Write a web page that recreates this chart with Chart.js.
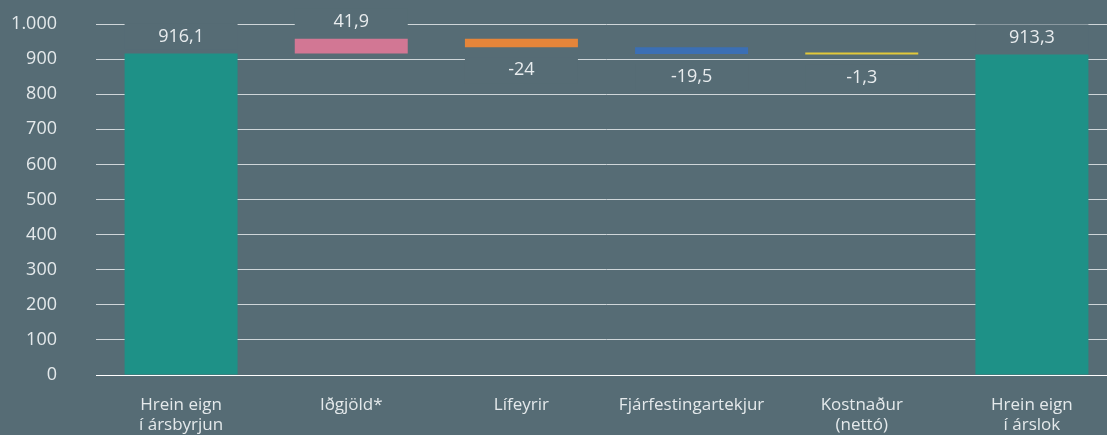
<!DOCTYPE html>
<html>
<head>
<meta charset="utf-8">
<script src="https://cdn.jsdelivr.net/npm/chart.js@4"></script>
<style>
  html, body { margin: 0; padding: 0; background: #566c75; overflow: hidden; }
  #wrap { width: 1117px; height: 435px; position: relative; }
</style>
</head>
<body>
<div id="wrap"><canvas id="chart"></canvas></div>
<script>
const BG = "#566c75";
const categories = [
  ["Hrein eign", "í ársbyrjun"],
  "Iðgjöld*",
  "Lífeyrir",
  "Fjárfestingartekjur",
  ["Kostnaður", "(nettó)"],
  ["Hrein eign", "í árslok"]
];
const values = [916.1, 41.9, -24, -19.5, -1.3, 913.3];
const isTotal = [true, false, false, false, false, true];
const barColors = ["#1e9187", "#d27794", "#e5853a", "#3b6fb5", "#e2c83a", "#1e9187"];
const yTicks = [0, 100, 200, 300, 400, 500, 600, 700, 800, 900, 1000];

// floating ranges for the waterfall
let running = 0;
const ranges = values.map((v, i) => {
  if (isTotal[i]) { running = v; return [0, v]; }
  const start = running;
  running += v;
  return [start, running];
});

function fmt(v) {
  return String(v).replace(".", ",");
}

const labelPlugin = {
  id: "barLabels",
  afterDatasetsDraw(chart) {
    const ctx = chart.ctx;
    const meta = chart.getDatasetMeta(0);
    ctx.save();
    ctx.font = "18px 'Open Sans'";
    ctx.textAlign = "center";
    ctx.textBaseline = "middle";
    meta.data.forEach((bar, i) => {
      const top = Math.min(bar.y, bar.base);
      const bottom = Math.max(bar.y, bar.base);
      const cy = values[i] >= 0 ? top - 17 : bottom + 23;
      ctx.fillStyle = BG;
      ctx.fillRect(bar.x - bar.width / 2, cy - 13, bar.width, 26);
      ctx.fillStyle = "#e8ecee";
      ctx.fillText(fmt(values[i]), bar.x, cy);
    });
    ctx.restore();
  }
};

new Chart(document.getElementById("chart"), {
  type: "bar",
  data: {
    labels: categories,
    datasets: [{
      data: ranges,
      backgroundColor: barColors,
      borderWidth: 0,
      barPercentage: 0.664,
      categoryPercentage: 1,
      minBarLength: 2
    }]
  },
  options: {
    responsive: true,
    maintainAspectRatio: false,
    animation: false,
    layout: { padding: { top: 24, left: 0, right: 0, bottom: 0 } },
    plugins: { legend: { display: false }, tooltip: { enabled: false } },
    scales: {
      x: {
        grid: { display: false, drawTicks: false },
        border: { color: "#ffffff", width: 1 },
        ticks: {
          color: "#e4e9eb",
          font: { family: "Open Sans", size: 17, lineHeight: 1.2 },
          padding: 20,
          maxRotation: 0,
          autoSkip: false
        },
        afterFit(scale) { scale.height = 60; }
      },
      y: {
        min: 0,
        max: 1000,
        afterBuildTicks(scale) { scale.ticks = yTicks.map(v => ({ value: v })); },
        grid: { color: "#cfd6d9", lineWidth: 1, drawTicks: false },
        border: { display: false },
        ticks: {
          color: "#e4e9eb",
          font: { family: "Open Sans", size: 18 },
          padding: 39,
          callback: v => v >= 1000 ? "1.000" : String(v)
        },
        afterFit(scale) {
          scale.width = 96;
          scale.paddingTop = 0;
          scale.paddingBottom = 0;
        }
      }
    }
  },
  plugins: [labelPlugin]
});
</script>
</body>
</html>
